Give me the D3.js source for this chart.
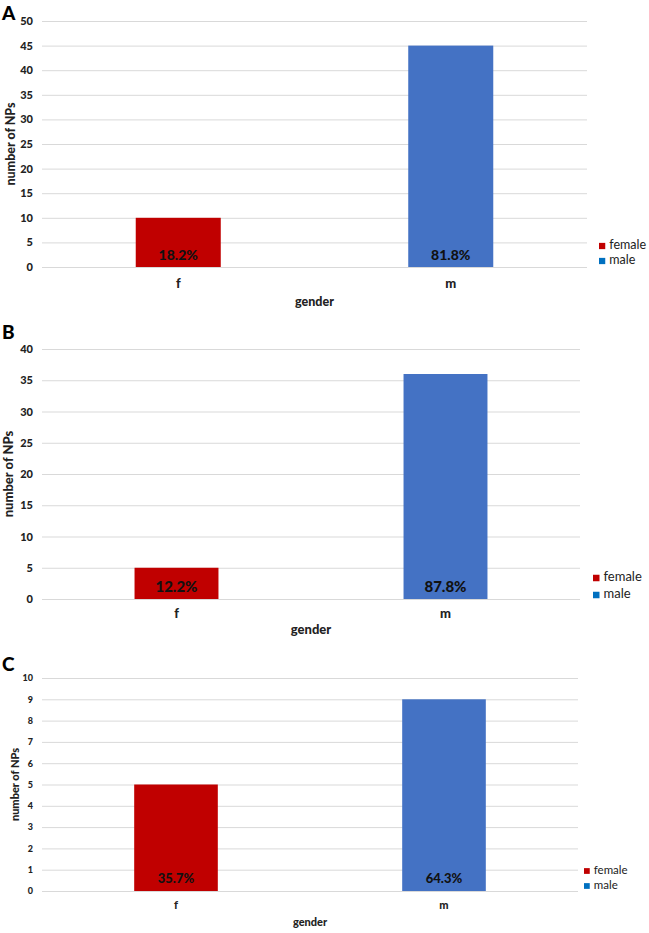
<!DOCTYPE html>
<html>
<head>
<meta charset="utf-8">
<script src="https://cdn.jsdelivr.net/npm/d3@7"></script>
<style>
  body { margin: 0; background: #fff; }
  svg { font-family: Lato, "Open Sans", sans-serif; }
</style>
</head>
<body>
<main></main>
<script>
// data
const categories = ['f', 'm'];
const seriesNames = ['female', 'male'];
const countsA = [10, 45];
const countsB = [5, 36];
const countsC = [5, 9];
const percentA = ['18.2%', '81.8%'];
const percentB = ['12.2%', '87.8%'];
const percentC = ['35.7%', '64.3%'];
const ticksA = [0, 5, 10, 15, 20, 25, 30, 35, 40, 45, 50];
const ticksB = [0, 5, 10, 15, 20, 25, 30, 35, 40];
const ticksC = [0, 1, 2, 3, 4, 5, 6, 7, 8, 9, 10];

const barColors = ['#C00000', '#4472C4'];
const legendColors = ['#C00000', '#0070C0'];

const width = 649;
const height = 933;

const svg = d3.select('main')
  .append('svg')
  .attr('width', width)
  .attr('height', height);

// layout of each panel
const panels = [
  { letter: 'A', counts: countsA, percents: percentA, ticks: ticksA,
    top: 21, bottom: 267, left: 42, right: 587, letterY: 20,
    tickFont: 11, titleFont: 12.5, pctFont: 14, legendFont: 12.5, catFont: 13,
    yTitleX: 12, catDy: 18, genderY: 303, legendX: 599, legendY: [246, 261] },
  { letter: 'B', counts: countsB, percents: percentB, ticks: ticksB,
    top: 349, bottom: 599, left: 42, right: 580, letterY: 339,
    tickFont: 11, titleFont: 13, pctFont: 15, legendFont: 13, catFont: 13,
    yTitleX: 10, catDy: 16, genderY: 631, legendX: 593, legendY: [578, 595] },
  { letter: 'C', counts: countsC, percents: percentC, ticks: ticksC,
    top: 678, bottom: 891, left: 42, right: 578, letterY: 671,
    tickFont: 9, titleFont: 11, pctFont: 13, legendFont: 11.5, catFont: 11,
    yTitleX: 16, catDy: 15, genderY: 923, legendX: 584, legendY: [871, 886] }
];

panels.forEach(p => {
  const g = svg.append('g');
  const yMax = p.ticks[p.ticks.length - 1];

  const xScale = d3.scaleBand()
    .domain(categories)
    .range([p.left, p.right])
    .paddingInner(0.688)
    .paddingOuter(0.344);

  const yScale = d3.scaleLinear()
    .domain([0, yMax])
    .range([p.bottom, p.top]);

  // gridlines + tick labels
  const yAxis = d3.axisLeft(yScale)
    .tickValues(p.ticks)
    .tickSize(-(p.right - p.left))
    .tickPadding(9);

  const axisG = g.append('g')
    .attr('transform', `translate(${p.left}, 0)`)
    .call(yAxis);
  axisG.select('.domain').remove();
  axisG.selectAll('line').attr('stroke', '#d9d9d9').attr('stroke-width', 1);
  axisG.selectAll('text')
    .attr('font-size', p.tickFont)
    .attr('font-weight', 900)
    .attr('fill', '#222');
  axisG.attr('font-family', null);

  // bars
  g.selectAll('rect.bar')
    .data(p.counts)
    .enter()
    .append('rect')
    .attr('class', 'bar')
    .attr('x', (d, i) => xScale(categories[i]))
    .attr('y', d => yScale(d))
    .attr('width', xScale.bandwidth())
    .attr('height', d => yScale(0) - yScale(d))
    .attr('fill', (d, i) => barColors[i]);

  // percentage labels inside the bars
  g.selectAll('text.pct')
    .data(p.percents)
    .enter()
    .append('text')
    .attr('class', 'pct')
    .attr('x', (d, i) => xScale(categories[i]) + xScale.bandwidth() / 2)
    .attr('y', yScale(0) - 11)
    .attr('dominant-baseline', 'middle')
    .attr('text-anchor', 'middle')
    .attr('font-size', p.pctFont)
    .attr('font-weight', 900)
    .attr('fill', '#111')
    .text(d => d);

  // category labels
  g.selectAll('text.cat')
    .data(categories)
    .enter()
    .append('text')
    .attr('class', 'cat')
    .attr('x', d => xScale(d) + xScale.bandwidth() / 2)
    .attr('y', p.bottom + p.catDy)
    .attr('dominant-baseline', 'middle')
    .attr('text-anchor', 'middle')
    .attr('font-size', p.catFont)
    .attr('font-weight', 900)
    .attr('fill', '#222')
    .text(d => d);

  // axis titles
  g.append('text')
    .text('gender')
    .attr('x', (p.left + p.right) / 2)
    .attr('y', p.genderY)
    .attr('dominant-baseline', 'middle')
    .attr('text-anchor', 'middle')
    .attr('font-size', p.titleFont)
    .attr('font-weight', 900)
    .attr('fill', '#222');

  g.append('text')
    .text('number of NPs')
    .attr('transform', `translate(${p.yTitleX}, ${(p.top + p.bottom) / 2})rotate(270)`)
    .attr('dominant-baseline', 'middle')
    .attr('text-anchor', 'middle')
    .attr('font-size', p.titleFont)
    .attr('font-weight', 900)
    .attr('fill', '#222');

  // panel letter
  g.append('text')
    .text(p.letter)
    .attr('x', 2)
    .attr('y', p.letterY)
    .attr('font-size', 19)
    .attr('font-weight', 900)
    .attr('fill', '#000');

  // legend
  seriesNames.forEach((name, i) => {
    const sq = p.legendFont * 0.5;
    g.append('rect')
      .attr('x', p.legendX)
      .attr('y', p.legendY[i] - sq / 2)
      .attr('width', sq)
      .attr('height', sq)
      .attr('fill', legendColors[i]);
    g.append('text')
      .text(name)
      .attr('x', p.legendX + sq + 4)
      .attr('y', p.legendY[i])
      .attr('dominant-baseline', 'middle')
      .attr('font-size', p.legendFont)
      .attr('fill', '#222');
  });
});
</script>
</body>
</html>
